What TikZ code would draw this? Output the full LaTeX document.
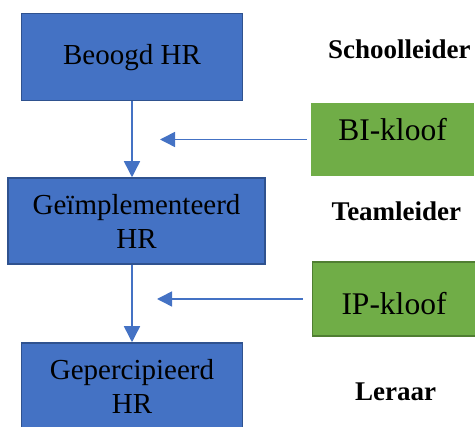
\documentclass[tikz,border=0pt]{standalone}
\usepackage{fontspec}
\setmainfont{Liberation Serif}
\usetikzlibrary{arrows.meta}
\definecolor{hrblue}{HTML}{4472C4}
\definecolor{hredge}{HTML}{2F528F}
\definecolor{gapgreen}{HTML}{70AD47}
\definecolor{gapedge}{HTML}{507E32}
\tikzset{
  hrbox/.style={draw=hredge, line width=1.5pt, fill=hrblue, inner sep=0pt,
    align=center, font=\fontsize{29}{34}\selectfont},
  gapbox/.style={fill=gapgreen, inner sep=0pt, minimum width=163pt,
    font=\fontsize{31.5}{36}\selectfont},
  rolelabel/.style={anchor=base west, inner sep=0pt,
    font=\fontsize{27}{32}\selectfont\bfseries},
  flow/.style={draw=hrblue, line width=1.5pt,
    -{Triangle[width=16pt,length=16pt]}, fill=hrblue}
}
\begin{document}
\begin{tikzpicture}[x=1pt, y=-1pt]
  \useasboundingbox (0,0) rectangle (475,427);

  % HR levels
  \node[hrbox, minimum width=221pt, minimum height=87pt] (b1) at (132,57.25) {Beoogd HR};
  \node[hrbox, minimum width=257pt, minimum height=86pt] (b2) at (136.5,221) {Geïmplementeerd\\HR};
  \node[hrbox, minimum width=221pt, minimum height=86pt] (b3) at (132,386) {Gepercipieerd\\HR};

  % gaps between the levels
  \node[gapbox, anchor=base, text height=37.7pt, text depth=35.3pt] (bi) at (392.5,140.7) {BI-kloof};
  \node[gapbox, draw=gapedge, line width=1.5pt, anchor=base, text height=53pt, text depth=21pt] (ip) at (394,315) {IP-kloof};

  % roles
  \node[rolelabel] (r1) at (328,58.3) {Schoolleider};
  \node[rolelabel] (r2) at (331.5,221) {Teamleider};
  \node[rolelabel] (r3) at (355,401) {Leraar};

  % vertical flow
  \draw[flow] (b1.south) -- (b1.south |- b2.north);
  \draw[flow] (b3.north |- b2.south) -- (b3.north);

  % gap pointers
  \coordinate (bitip) at (160,139.5);
  \coordinate (iptip) at (157,299);
  \draw[flow, -{Triangle[width=15pt,length=15pt]}] ([xshift=-4pt]bi.west) -- (bitip);
  \draw[flow, -{Triangle[width=15pt,length=15pt]}] ([xshift=-9pt]ip.west) -- (iptip);
\end{tikzpicture}
\end{document}
